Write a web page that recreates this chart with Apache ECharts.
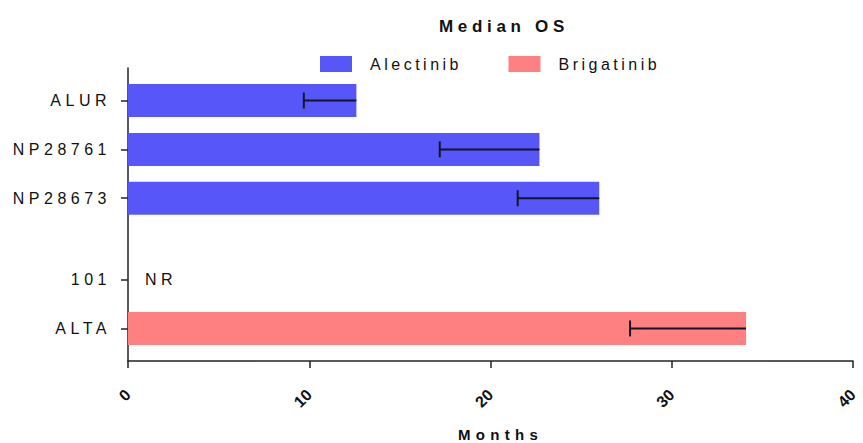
<!DOCTYPE html>
<html><head><meta charset="utf-8">
<script src="https://cdn.jsdelivr.net/npm/echarts@6/dist/echarts.min.js"></script>
<style>html,body{margin:0;padding:0;background:#fff}#chart{width:863px;height:443px}</style>
</head><body><div id="chart"></div>
<script>
// Row slots of the category axis (blank slots give the spacing seen in the figure)
const rowLabels = ['', '', 'ALUR', '', '', 'NP28761', '', '', 'NP28673', '', '', '', '', '101', '', '', 'ALTA', '', ''];
const studies = ['ALUR', 'NP28761', 'NP28673', '101', 'ALTA'];
const drugs = ['Alectinib', 'Alectinib', 'Alectinib', 'Brigatinib', 'Brigatinib'];
const medianOS = [12.6, 22.7, 26.0, null, 34.1];
const lowerCI = [9.7, 17.2, 21.5, null, 27.7];
const notReached = ['', '', '', 'NR', ''];
const xTicks = [0, 10, 20, 30, 40];
const legendNames = ['Alectinib', 'Brigatinib'];
const colors = { Alectinib: '#5757F9', Brigatinib: '#FF8080' };

function barData(drug) {
  return rowLabels.map(l => {
    const i = studies.indexOf(l);
    return (l !== '' && i >= 0 && drugs[i] === drug) ? medianOS[i] : null;
  });
}
const errData = [];
studies.forEach((s, i) => {
  if (medianOS[i] != null && lowerCI[i] != null) errData.push([lowerCI[i], medianOS[i], rowLabels.indexOf(s)]);
});
const nrData = [];
studies.forEach((s, i) => { if (notReached[i]) nrData.push([0, rowLabels.indexOf(s), notReached[i]]); });

const FONT = '"Liberation Sans", Arial, sans-serif';
const chart = echarts.init(document.getElementById('chart'), null, { renderer: 'svg' });
chart.setOption({
  animation: false,
  backgroundColor: '#fff',
  title: {
    text: 'Median OS', left: 499, top: 13, textAlign: 'center',
    textStyle: { fontFamily: FONT, fontSize: 17, fontWeight: 'bold', color: '#111' }
  },
  legend: {
    data: legendNames, left: 320, top: 56, padding: 0,
    itemWidth: 32, itemHeight: 16, itemGap: 78, icon: 'rect',
    textStyle: { fontFamily: FONT, fontSize: 16, color: '#111', padding: [0, 0, 0, 13] }
  },
  grid: { left: 128, right: 10, top: 68, bottom: 82, containLabel: false, outerBoundsMode: 'none' },
  xAxis: {
    type: 'value', min: xTicks[0], max: xTicks[xTicks.length - 1], interval: 10,
    splitLine: { show: false },
    axisLine: { show: true, lineStyle: { color: '#222', width: 1.5 } },
    axisTick: { show: true, length: 7, lineStyle: { color: '#222', width: 1.5 } },
    axisLabel: { rotate: 45, margin: 31, fontFamily: FONT, fontSize: 16, fontWeight: 'bold', color: '#111' },
    name: 'Months', nameLocation: 'middle', nameGap: 66, nameMoveOverlap: false,
    nameTextStyle: { fontFamily: FONT, fontSize: 15, fontWeight: 'bold', color: '#111', padding: [0, 0, 0, 20] }
  },
  yAxis: {
    type: 'category', data: rowLabels, inverse: true, boundaryGap: false,
    axisLine: { show: true, lineStyle: { color: '#222', width: 1.5 } },
    axisTick: { show: true, length: 7, interval: (i, v) => v !== '', lineStyle: { color: '#222', width: 1.5 } },
    axisLabel: { interval: 0, margin: 17, fontFamily: FONT, fontSize: 16, color: '#111' },
    splitLine: { show: false }
  },
  series: [
    { name: 'Alectinib', type: 'bar', data: barData('Alectinib'), barWidth: 33, barGap: '-100%', itemStyle: { color: colors.Alectinib } },
    { name: 'Brigatinib', type: 'bar', data: barData('Brigatinib'), barWidth: 33, barGap: '-100%', itemStyle: { color: colors.Brigatinib } },
    {
      name: 'err', type: 'custom', data: errData, encode: { x: [0, 1], y: 2 }, z: 5,
      renderItem: (params, api) => {
        const p0 = api.coord([api.value(0), api.value(2)]);
        const p1 = api.coord([api.value(1), api.value(2)]);
        const st = { stroke: '#15152a', lineWidth: 2 };
        return { type: 'group', children: [
          { type: 'line', shape: { x1: p0[0], y1: p0[1], x2: p1[0], y2: p1[1] }, style: st },
          { type: 'line', shape: { x1: p0[0], y1: p0[1] - 8, x2: p0[0], y2: p0[1] + 8 }, style: st }
        ]};
      }
    },
    {
      name: 'nr', type: 'custom', data: nrData, encode: { x: 0, y: 1 }, z: 5,
      renderItem: (params, api) => {
        const p = api.coord([api.value(0), api.value(1)]);
        return { type: 'text', x: p[0] + 17, y: p[1], style: {
          text: nrData[params.dataIndex][2], fontFamily: FONT, fontSize: 16, fill: '#111',
          align: 'left', verticalAlign: 'middle' } };
      }
    }
  ]
});

function applySpacing() {
  const tickStr = xTicks.map(String);
  document.querySelectorAll('#chart svg text').forEach(t => {
    const s = t.textContent;
    let sp = 4.5;
    if (tickStr.includes(s)) sp = 0;
    else if (s === 'Median OS') sp = 4.7;
    else if (s === 'Months') sp = 5.3;
    else if (legendNames.includes(s)) sp = 3.5;
    t.setAttribute('letter-spacing', sp + 'px');
    t.style.letterSpacing = sp + 'px';
  });
}
chart.on('finished', applySpacing);
applySpacing();
setTimeout(applySpacing, 50);
</script>
</body></html>
